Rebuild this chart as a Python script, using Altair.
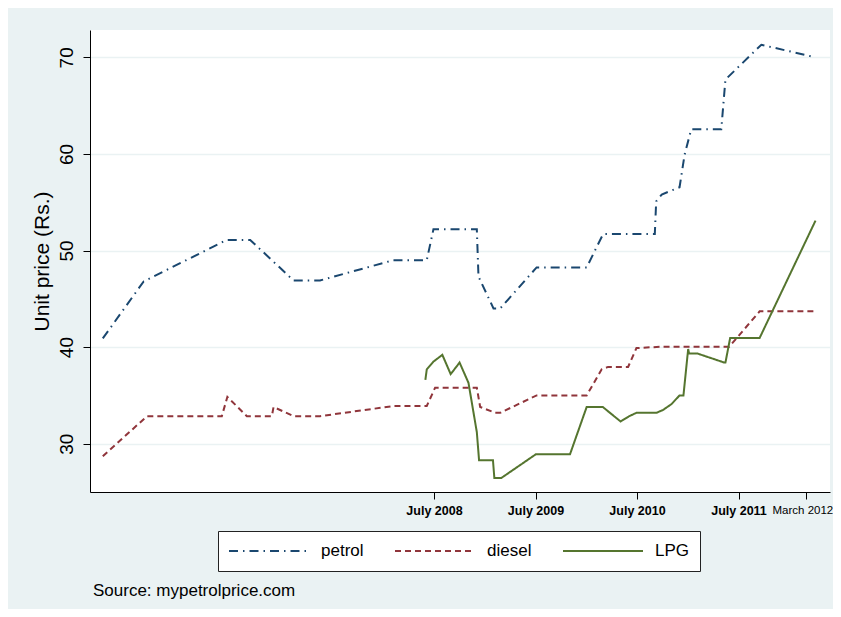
import altair as alt
import pandas as pd

series_order = ["petrol", "diesel", "LPG"]
series_colors = ["#1a476f", "#90353b", "#55752f"]
series_dashes = [[9, 5, 1.5, 5], [6, 4], [1, 0]]

petrol_dates = ["2005-03-28", "2005-08-22", "2006-06-17", "2006-09-09", "2007-02-12",
                "2007-05-18", "2008-02-06", "2008-06-05", "2008-06-29", "2008-12-02",
                "2008-12-08", "2009-01-31", "2009-02-24", "2009-07-05", "2010-01-01",
                "2010-03-01", "2010-09-03", "2010-09-08", "2010-09-28", "2010-12-01",
                "2010-12-19", "2011-01-12", "2011-04-30", "2011-05-15", "2011-09-21",
                "2012-04-03"]
petrol_values = [40.9, 46.8, 51.1, 51.1, 46.9, 46.9, 49.0, 49.0, 52.2, 52.2,
                 47.3, 44.0, 44.0, 48.25, 48.25, 51.7, 51.7, 55.1, 55.8, 56.55,
                 59.9, 62.55, 62.55, 67.7, 71.3, 70.0]

diesel_dates = ["2005-03-28", "2005-09-03", "2006-05-30", "2006-06-19", "2006-08-28",
                "2006-11-26", "2006-12-02", "2007-02-12", "2007-05-18", "2008-02-06",
                "2008-06-05", "2008-07-05", "2008-12-02", "2008-12-14", "2009-02-06",
                "2009-02-24", "2009-07-05", "2010-01-01", "2010-02-24", "2010-03-19",
                "2010-05-30", "2010-06-29", "2010-10-01", "2011-05-29", "2011-09-15",
                "2012-04-03"]
diesel_values = [28.7, 32.85, 32.85, 34.85, 32.85, 32.85, 33.8, 32.85, 32.85, 33.9,
                 33.9, 35.8, 35.8, 33.8, 33.2, 33.2, 35.0, 35.0, 37.7, 37.95,
                 37.95, 39.9, 40.05, 40.05, 43.7, 43.7]

lpg_dates = ["2008-05-31", "2008-06-05", "2008-06-29", "2008-07-31", "2008-08-30",
             "2008-10-01", "2008-11-02", "2008-12-02", "2008-12-10", "2009-01-29",
             "2009-02-03", "2009-02-28", "2009-07-02", "2009-11-02", "2010-01-01",
             "2010-02-28", "2010-05-03", "2010-06-03", "2010-06-29", "2010-09-09",
             "2010-10-03", "2010-11-02", "2010-12-01", "2010-12-15", "2011-01-01",
             "2011-01-04", "2011-02-02", "2011-05-11", "2011-05-15", "2011-06-01",
             "2011-09-15", "2012-04-03"]
lpg_values = [36.6, 37.7, 38.5, 39.2, 37.2, 38.4, 36.3, 31.2, 28.3, 28.3,
              26.45, 26.45, 28.9, 28.9, 33.8, 33.8, 32.3, 32.85, 33.2, 33.2,
              33.5, 34.1, 35.0, 35.0, 39.8, 39.35, 39.35, 38.4, 38.4, 40.95,
              40.95, 53.1]

y_ticks = [30, 40, 50, 60, 70]
source_note = "Source: mypetrolprice.com"

rows = []
for name, ds, vs in [("petrol", petrol_dates, petrol_values),
                     ("diesel", diesel_dates, diesel_values),
                     ("LPG", lpg_dates, lpg_values)]:
    for d, v in zip(ds, vs):
        rows.append({"fuel": name, "date": d, "price": v})
df = pd.DataFrame(rows)

x_ticks = [alt.DateTime(year=2008, month=7, date=1, utc=True),
           alt.DateTime(year=2009, month=7, date=1, utc=True),
           alt.DateTime(year=2010, month=7, date=1, utc=True),
           alt.DateTime(year=2011, month=7, date=1, utc=True),
           alt.DateTime(year=2012, month=3, date=1, utc=True)]

legend = alt.Legend(
    title=None, orient="none", legendX=128, legendY=501, direction="horizontal",
    symbolType="stroke", symbolSize=6400, symbolStrokeWidth=2, clipHeight=20,
    labelFontSize=17, labelOffset=11, columnPadding=30, padding=10,
    fillColor="white", strokeColor="#222222", labelFont="Liberation Sans",
    labelColor="black",
)

lines = alt.Chart(df).mark_line(strokeWidth=2).encode(
    x=alt.X(
        "date:T",
        scale=alt.Scale(type="utc", domain=[alt.DateTime(year=2005, month=2, date=10, utc=True),
                                           alt.DateTime(year=2012, month=5, date=25, utc=True)]),
        axis=alt.Axis(
            values=x_ticks, format="%B %Y", title=None, grid=False,
            labelColor="black", tickSize=7, labelPadding=5,
            labelFontSize={"condition": {"test": "utcmonth(datum.value) == 6", "value": 12.5},
                           "value": 11.5},
            labelFontWeight={"condition": {"test": "utcmonth(datum.value) == 6", "value": "bold"},
                             "value": "normal"},
            labelOffset={"condition": {"test": "utcmonth(datum.value) == 2", "value": -4},
                         "value": 0},
            domainColor="black", tickColor="black", labelFlush=False,
        ),
    ),
    y=alt.Y(
        "price:Q",
        scale=alt.Scale(domain=[25, 72.83], nice=False, zero=False),
        axis=alt.Axis(
            values=y_ticks, title="Unit price (Rs.)", labelAngle=270,
            labelAlign="center", labelBaseline="alphabetic", labelFontSize=19,
            labelColor="black", tickSize=7, labelPadding=11,
            grid=True, gridColor="#eaf2f3", gridWidth=1.5,
            domainColor="black", tickColor="black",
            titleAngle=270, titleX=-42, titleY=231, titleAlign="center",
            titleBaseline="alphabetic", titleFontSize=21, titleFontWeight="normal",
            titleColor="black",
        ),
    ),
    color=alt.Color("fuel:N", scale=alt.Scale(domain=series_order, range=series_colors),
                    legend=legend),
    strokeDash=alt.StrokeDash("fuel:N", scale=alt.Scale(domain=series_order, range=series_dashes),
                              legend=legend),
)

src = alt.Chart(pd.DataFrame({"note": [source_note]})).mark_text(
    align="left", baseline="alphabetic", fontSize=17, font="Liberation Sans", color="black"
).encode(text="note:N", x=alt.value(3), y=alt.value(566))

chart = alt.layer(lines, src).properties(
    width=740, height=462, background="#eaf2f3",
    padding={"left": 82, "top": 22, "right": 3, "bottom": 117},
    autosize=alt.AutoSizeParams(type="none"),
).configure(font="Liberation Sans").configure_view(fill="white", strokeWidth=0)

chart.save("out.html", embed_options={"renderer": "svg", "actions": False})
